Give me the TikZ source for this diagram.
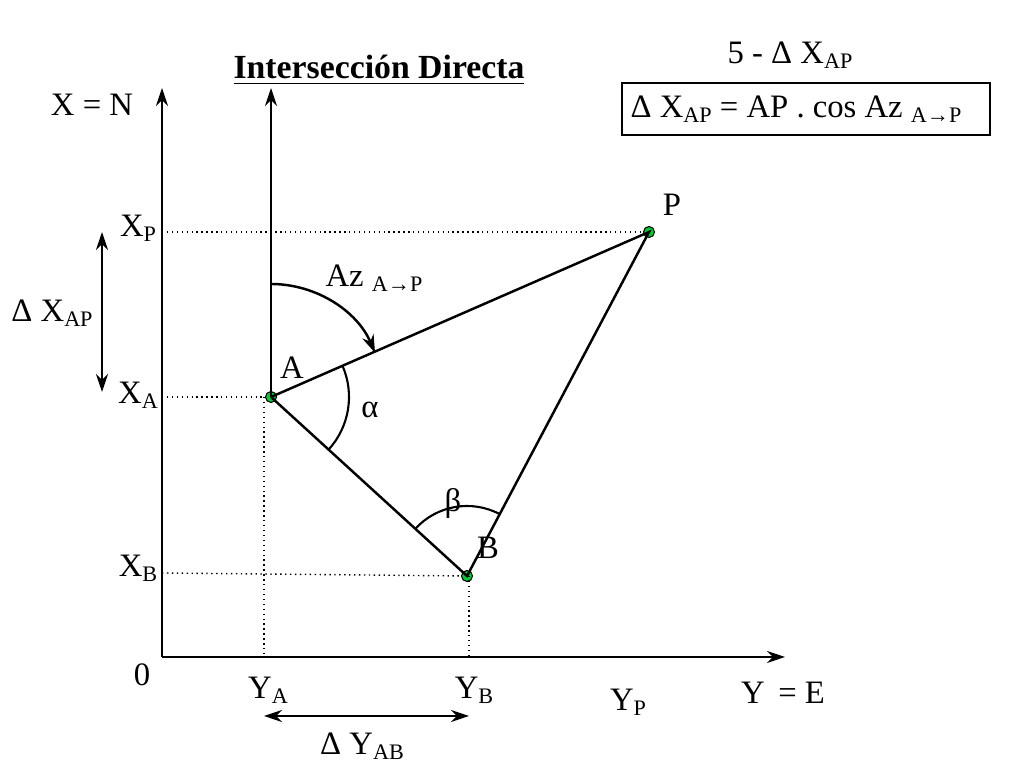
\documentclass[tikz,border=0pt]{standalone}
\usepackage{fontspec}
\setmainfont{Liberation Serif}
\usetikzlibrary{arrows.meta}
\newcommand{\sbs}[1]{\raisebox{-0.35ex}{\fontsize{6.3}{7}\selectfont #1}}
\begin{document}
\begin{tikzpicture}[x=0.01cm,y=-0.01cm,
 lbl/.style={font=\fontsize{9.3}{10}\selectfont,inner sep=0pt},
 dot/.style={circle,fill=green!60!teal,draw=black,line width=0.3pt,minimum size=0.11cm,inner sep=0pt},
 dotl/.style={densely dotted,line width=0.4pt},
 ar/.style={-{Stealth[length=0.18cm,width=0.12cm]},line width=0.7pt}]
\useasboundingbox (0,0) rectangle (1024,768);
\coordinate (O) at (162,657);
\coordinate (Ytop) at (162,88);
\coordinate (Xend) at (785,657);
\node[dot] (A) at (271,397) {};
\node[dot] (P) at (649,232) {};
\node[dot] (B) at (467,576) {};
\coordinate (Atop) at (271,88);
\draw[ar] (O) -- (Ytop);
\draw[ar] (O) -- (Xend);
\draw[ar] (A.center) -- (Atop);
\draw[line width=0.7pt] (A.center) -- (P.center) -- (B.center) -- (A.center);
\draw[dotl] (162,232) -- (P);
\draw[dotl] (162,397) -- (A);
\draw[dotl] (162,573) -- (B);
\draw[dotl] (264,397) -- (264,657);
\draw[dotl] (469,576) -- (469,657);
\draw[{Stealth[length=0.18cm,width=0.12cm]}-{Stealth[length=0.18cm,width=0.12cm]},line width=0.7pt] (102,232) -- (102,392);
\draw[{Stealth[length=0.18cm,width=0.12cm]}-{Stealth[length=0.18cm,width=0.12cm]},line width=0.7pt] (264,716) -- (469,716);
\draw[ar] (271,284) arc[start angle=-90,end angle=-23,radius=113];
\draw[line width=0.6pt] ([shift={(-23.6:78)}]271,397) arc[start angle=-23.6,end angle=42.4,radius=78];
\draw[line width=0.6pt] ([shift={(-137.6:70)}]467,576) arc[start angle=-137.6,end angle=-62,radius=70];
\node[lbl] (XN) at (92,105) {X = N};
\node[lbl] (XP) at (138,228) {X\sbs{P}};
\node[lbl] (XA) at (138,395) {X\sbs{A}};
\node[lbl] (XB) at (138,568) {X\sbs{B}};
\node[lbl] (dX) at (52,313) {Δ X\sbs{AP}};
\node[lbl] (zero) at (142,675) {0};
\node[lbl] (YA) at (268,690) {Y\sbs{A}};
\node[lbl] (YB) at (474,690) {Y\sbs{B}};
\node[lbl] (YP) at (628,702) {Y\sbs{P}};
\node[lbl] (YE) at (783,693) {Y\ \,= E};
\node[lbl] (dY) at (362,746) {Δ Y\sbs{AB}};
\node[lbl] (Pl) at (672,205) {P};
\node[lbl] (Al) at (292,368) {A};
\node[lbl] (Bl) at (488,548) {B};
\node[lbl] (al) at (370,410) {α};
\node[lbl] (be) at (453,503) {β};
\node[lbl] (Az) at (374,278) {Az \sbs{A→P}};
\node[lbl,font=\fontsize{9.6}{10}\selectfont\bfseries] (T) at (379,70) {\underline{Intersección Directa}};
\node[lbl] (n5) at (790,55) {5 - Δ X\sbs{AP}};
\node[draw,line width=0.4pt,minimum width=3.68cm,minimum height=0.52cm,inner sep=0pt] (box) at (806,109) {};
\node[lbl] (f) at (796,109) {Δ X\sbs{AP} = AP . cos Az \sbs{A→P}};
\end{tikzpicture}
\end{document}
